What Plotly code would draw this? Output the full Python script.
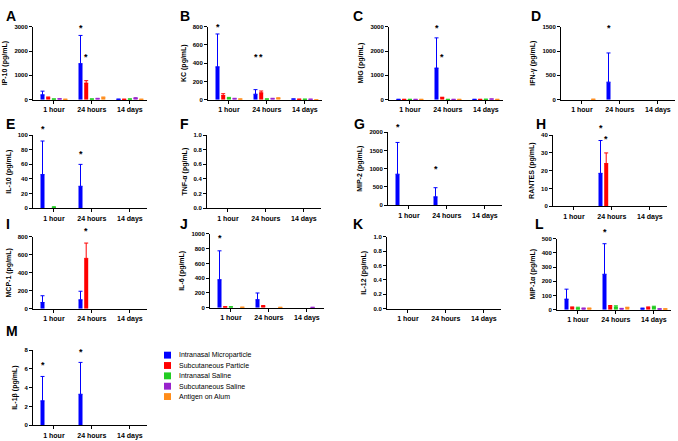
import plotly.graph_objects as go

W, H = 678, 441
GROUPS = ["1 hour", "24 hours", "14 days"]
SERIES = ["Intranasal Microparticle", "Subcutaneous Particle", "Intranasal Saline",
          "Subcutaneous Saline", "Antigen on Alum"]
COLORS = ["#0000FF", "#FF0000", "#22CC22", "#9922CC", "#FF8C1A"]
N = None

# ---- data: mean per series (rows) x group (cols); upper = top of error bar ----
IP10_MEAN = [[200, 1480, 10], [80, 680, 10], [20, 20, 20], [30, 40, 50], [10, 80, 10]]
IP10_UPPER = [[350, 2640, 20], [110, 780, 15], [30, 30, 30], [40, 55, 80], [15, 110, 15]]
IP10_STARS = [(1, 0, 2950), (1, 1, 1740)]

KC_MEAN = [[360, 60, 5], [45, 75, 3], [15, 5, 3], [10, 10, 3], [5, 15, 0]]
KC_UPPER = [[720, 110, 8], [65, 95, 5], [25, 8, 5], [15, 15, 5], [8, 20, 0]]
KC_STARS = [(0, 0, 800), (1, 0, 465), (1, 1, 465)]

MIG_MEAN = [[5, 1300, 5], [5, 80, 5], [5, 5, 10], [5, 5, 20], [5, 5, 5]]
MIG_UPPER = [[8, 2540, 8], [8, 100, 8], [8, 8, 15], [8, 8, 30], [8, 8, 8]]
MIG_STARS = [(1, 0, 2950), (1, 1, 1740)]

IFNG_MEAN = [[N, 360, N], [N, N, N], [N, N, N], [N, N, N], [5, N, N]]
IFNG_UPPER = [[N, 960, N], [N, N, N], [N, N, N], [N, N, N], [8, N, N]]
IFNG_STARS = [(1, 0, 1480)]

IL10_MEAN = [[46, 30, N], [N, N, N], [1, N, N], [N, N, N], [N, N, N]]
IL10_UPPER = [[92, 60, N], [N, N, N], [2, N, N], [N, N, N], [N, N, N]]
IL10_STARS = [(0, 0, 109), (1, 0, 74)]

TNFA_MEAN = [[N, N, N]] * 5
TNFA_UPPER = [[N, N, N]] * 5
TNFA_STARS = []

MIP2_MEAN = [[850, 230, N], [N, N, N], [N, N, N], [N, N, N], [N, N, N]]
MIP2_UPPER = [[1720, 480, N], [N, N, N], [N, N, N], [N, N, N], [N, N, N]]
MIP2_STARS = [(0, 0, 2135), (1, 0, 1000)]

RANTES_MEAN = [[N, 18.5, N], [N, 24, N], [N, N, N], [N, N, N], [N, N, N]]
RANTES_UPPER = [[N, 37, N], [N, 30, N], [N, N, N], [N, N, N], [N, N, N]]
RANTES_STARS = [(1, 0, 43.9), (1, 1, 38)]

MCP1_MEAN = [[70, 100, N], [N, 560, N], [N, N, N], [N, N, N], [N, N, N]]
MCP1_UPPER = [[145, 195, N], [N, 730, N], [N, N, N], [N, N, N], [N, N, N]]
MCP1_STARS = [(1, 1, 866)]

IL6_MEAN = [[380, 110, N], [10, 20, N], [10, N, N], [N, N, 3], [5, 3, N]]
IL6_UPPER = [[770, 200, N], [15, 30, N], [15, N, N], [N, N, 5], [8, 5, N]]
IL6_STARS = [(0, 0, 947)]

IL12_MEAN = [[N, N, N]] * 5
IL12_UPPER = [[N, N, N]] * 5
IL12_STARS = []

MIP1A_MEAN = [[75, 250, 8], [15, 25, 15], [12, 20, 20], [10, 8, 5], [10, 15, 5]]
MIP1A_UPPER = [[145, 465, 12], [20, 30, 20], [18, 28, 25], [12, 10, 7], [12, 18, 7]]
MIP1A_STARS = [(1, 0, 549)]

IL1B_MEAN = [[2.6, 3.3, N], [N, N, N], [N, N, N], [N, N, N], [N, N, N]]
IL1B_UPPER = [[5.2, 6.7, N], [N, N, N], [N, N, N], [N, N, N], [N, N, N]]
IL1B_STARS = [(0, 0, 6.4), (1, 0, 7.8)]

LETTERS = ["A", "B", "C", "D", "E", "F", "G", "H", "I", "J", "K", "L", "M"]
TITLES = ["IP-10 (pg/mL)", "KC (pg/mL)", "MIG (pg/mL)", "IFN-γ (pg/mL)", "IL-10 (pg/mL)",
          "TNF-α (pg/mL)", "MIP-2 (pg/mL)", "RANTES (pg/mL)", "MCP-1 (pg/mL)", "IL-6 (pg/mL)",
          "IL-12 (pg/mL)", "MIP-1α (pg/mL)", "IL-1β (pg/mL)"]
MEANS = [IP10_MEAN, KC_MEAN, MIG_MEAN, IFNG_MEAN, IL10_MEAN, TNFA_MEAN, MIP2_MEAN,
         RANTES_MEAN, MCP1_MEAN, IL6_MEAN, IL12_MEAN, MIP1A_MEAN, IL1B_MEAN]
UPPERS = [IP10_UPPER, KC_UPPER, MIG_UPPER, IFNG_UPPER, IL10_UPPER, TNFA_UPPER, MIP2_UPPER,
          RANTES_UPPER, MCP1_UPPER, IL6_UPPER, IL12_UPPER, MIP1A_UPPER, IL1B_UPPER]
STARS = [IP10_STARS, KC_STARS, MIG_STARS, IFNG_STARS, IL10_STARS, TNFA_STARS, MIP2_STARS,
         RANTES_STARS, MCP1_STARS, IL6_STARS, IL12_STARS, MIP1A_STARS, IL1B_STARS]
YMAX = [3000, 800, 3000, 1500, 100, 1.0, 2000, 40, 800, 1000, 1.0, 500, 8]
YSTEP = [1000, 200, 1000, 500, 20, 0.2, 500, 10, 200, 200, 0.2, 100, 2]

# ---- layout (pixel boxes: left, right, top, bottom) ----
BOXES = [(33, 147, 24, 98), (208, 322, 24, 98), (389, 503, 24, 98), (561, 675, 24, 98),
         (33, 147, 134, 208), (207, 321, 134, 208), (388, 502, 131, 205), (553, 667, 134, 206),
         (33, 147, 237, 310), (210, 324, 234, 309), (387, 501, 237, 310), (557, 671, 239, 311),
         (33, 147, 352, 428)]
LETTER_POS = [(4, 13), (178, 13), (351, 13), (529, 13), (4, 123), (178, 123), (352, 123),
              (534, 123), (4, 224), (178, 224), (351, 224), (533, 224), (4, 333)]

BARGAP, GROUPGAP = 0.25, 0.3
SLOT = (1 - BARGAP) / len(SERIES)
FONT = "Liberation Sans, Arial, sans-serif"

fig = go.Figure()
layout = {}
annotations = []
for k in range(13):
    xa = "x" if k == 0 else f"x{k+1}"
    ya = "y" if k == 0 else f"y{k+1}"
    for i, name in enumerate(SERIES):
        m = MEANS[k][i]
        u = UPPERS[k][i]
        err = [(uu - mm) if (uu is not None and mm is not None) else 0 for mm, uu in zip(m, u)]
        fig.add_trace(go.Bar(
            x=[0, 1, 2], y=m, name=name, marker_color=COLORS[i], marker_line_width=0,
            error_y=dict(type="data", symmetric=False, array=err, arrayminus=[0, 0, 0],
                         color=COLORS[i], thickness=1, width=2),
            xaxis=xa, yaxis=ya, showlegend=False, hoverinfo="skip"))
    for g, s, v in STARS[k]:
        # y in axis-domain units (value / axis max) so stars above the range still show
        annotations.append(dict(
            text="*", x=g - (1 - BARGAP) / 2 + SLOT * (s + 0.5), y=v / YMAX[k],
            xref=xa, yref=f"{ya} domain",
            xanchor="center", yanchor="middle", showarrow=False,
            font=dict(size=9, color="black", family=FONT, weight="bold")))
    l, r, t, b = BOXES[k]
    xkey = "xaxis" if k == 0 else f"xaxis{k+1}"
    ykey = "yaxis" if k == 0 else f"yaxis{k+1}"
    layout[xkey] = dict(
        domain=[l / W, r / W], anchor=ya, range=[-0.55, 2.45],
        tickvals=[0, 1, 2], ticktext=GROUPS, showline=True, linecolor="black", linewidth=1,
        ticks="outside", ticklen=3, tickwidth=1, tickcolor="black", showgrid=False,
        zeroline=False, tickfont=dict(size=7, color="black", family=FONT, weight="bold"),
        fixedrange=True)
    layout[ykey] = dict(
        domain=[1 - b / H, 1 - t / H], anchor=xa, range=[0, YMAX[k]], dtick=YSTEP[k],
        tick0=0, showline=True, linecolor="black", linewidth=1, ticks="outside",
        ticklen=3, tickwidth=1, tickcolor="black", showgrid=False, zeroline=False,
        tickformat=".1f" if YMAX[k] == 1.0 else "d",
        tickfont=dict(size=6, color="black", family=FONT, weight="bold"),
        title=dict(text=TITLES[k], standoff=5,
                   font=dict(size=7, color="black", family=FONT, weight="bold")),
        fixedrange=True)
    lx, ly = LETTER_POS[k]
    annotations.append(dict(
        text=LETTERS[k], x=lx / W, y=1 - ly / H, xref="paper", yref="paper",
        xanchor="left", yanchor="middle", showarrow=False,
        font=dict(size=14, color="black", family=FONT, weight="bold")))

# manual legend
shapes = []
LEG_X, LEG_Y0, LEG_DY = 164, 357, 10.5
for i, name in enumerate(SERIES):
    cy = LEG_Y0 + i * LEG_DY
    shapes.append(dict(type="rect", xref="paper", yref="paper",
                       x0=LEG_X / W, x1=(LEG_X + 7) / W,
                       y0=1 - (cy + 3.5) / H, y1=1 - (cy - 3.5) / H,
                       fillcolor=COLORS[i], line=dict(width=0)))
    annotations.append(dict(
        text=name, x=(LEG_X + 13) / W, y=1 - cy / H, xref="paper", yref="paper",
        xanchor="left", yanchor="middle", showarrow=False,
        font=dict(size=7, color="black", family=FONT)))

fig.update_layout(
    width=W, height=H, margin=dict(l=0, r=0, t=0, b=0),
    paper_bgcolor="white", plot_bgcolor="white",
    barmode="group", bargap=BARGAP, bargroupgap=GROUPGAP,
    annotations=annotations, shapes=shapes, showlegend=False, **layout)

fig.write_html("out.html")
